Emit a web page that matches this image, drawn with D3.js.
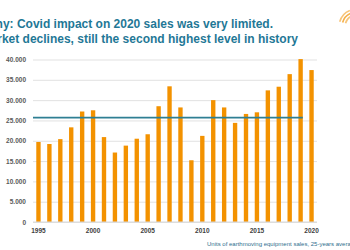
<!DOCTYPE html>
<html>
<head>
<meta charset="utf-8">
<script src="https://cdn.jsdelivr.net/npm/d3@7"></script>
<style>
  body { margin: 0; background: #fff; }
  svg { display: block; font-family: "Liberation Sans", Arial, sans-serif; }
</style>
</head>
<body>
<svg id="chart" width="350" height="250"></svg>
<script>
// yearly unit sales
var years = d3.range(1995, 2021);
var sales = [19700, 19200, 20400, 23300, 27200, 27500, 20900, 17100, 18800, 20500,
             21600, 28500, 33400, 28200, 15200, 21200, 30000, 28200, 24400, 26600,
             27000, 32400, 33300, 36400, 40100, 37400];
var average = 25700;
var yTicks = [0, 5000, 10000, 15000, 20000, 25000, 30000, 35000, 40000];
var xTickYears = [1995, 2000, 2005, 2010, 2015, 2020];

var titleLines = ["Germany: Covid impact on 2020 sales was very limited.",
                  "Market declines, still the second highest level in history"];
var footnote = "Units of earthmoving equipment sales, 25-years average";

var svg = d3.select("#chart");

// dots as thousands separator
var fmt = d3.formatLocale({decimal: ",", thousands: ".", grouping: [3], currency: ["", ""]}).format(",");

var x = d3.scaleBand().domain(years).range([33, 317]).paddingInner(0.6).paddingOuter(0.3);
var y = d3.scaleLinear().domain([0, 40000]).range([222, 59.5]);

// title (left part runs off the page like in the slide)
svg.selectAll(".title")
    .data(titleLines)
    .enter().append("text")
    .attr("class", "title")
    .attr("x", (d, i) => i === 0 ? 273 : 298)
    .attr("y", (d, i) => 28 + i * 15)
    .attr("text-anchor", "end")
    .attr("fill", "#1f7896")
    .attr("font-size", 12)
    .attr("font-weight", "bold")
    .text(d => d);

// bit of the logo in the corner
var logo = svg.append("g").attr("transform", "translate(356,26)");
[10, 13, 16].forEach(function (r, i) {
    logo.append("path")
        .attr("d", d3.arc()({innerRadius: r, outerRadius: r + 1.6, startAngle: -Math.PI * 0.42, endAngle: -Math.PI * 0.12}))
        .attr("fill", i === 1 ? "#f5b04a" : "#f7c57a");
});

// gridlines + y labels
var yAxis = d3.axisLeft(y).tickValues(yTicks).tickFormat(fmt).tickSize(-(317 - 33)).tickPadding(7);
var gy = svg.append("g").attr("transform", "translate(33,0)").call(yAxis);
gy.select(".domain").remove();
gy.selectAll(".tick line").attr("stroke", "#d9d9d9").attr("stroke-width", 0.8);
gy.selectAll(".tick text")
    .attr("fill", "#595959")
    .attr("font-size", 6.5)
    .attr("font-weight", "bold");

// bars
svg.selectAll(".bar")
    .data(sales)
    .enter().append("rect")
    .attr("class", "bar")
    .attr("x", (d, i) => x(years[i]))
    .attr("width", x.bandwidth())
    .attr("y", d => y(d))
    .attr("height", d => y(0) - y(d))
    .attr("fill", "#f39200");

// x axis
var xAxis = d3.axisBottom(x).tickValues(xTickYears).tickSize(0).tickPadding(6);
var gx = svg.append("g").attr("transform", "translate(0," + y(0) + ")").call(xAxis);
gx.select(".domain").attr("stroke", "#d9d9d9").attr("d", "M33,0H317");
gx.selectAll(".tick text")
    .attr("fill", "#404040")
    .attr("font-size", 6.5)
    .attr("font-weight", "bold");

// 25-year average
svg.append("line")
    .attr("x1", 33)
    .attr("x2", x(2019) + x.bandwidth())
    .attr("y1", y(average))
    .attr("y2", y(average))
    .attr("stroke", "#2e7f93")
    .attr("stroke-width", 1.8);

svg.append("text")
    .attr("x", 207)
    .attr("y", 246)
    .attr("fill", "#2e6f8e")
    .attr("font-size", 6)
    .text(footnote);
</script>
</body>
</html>
